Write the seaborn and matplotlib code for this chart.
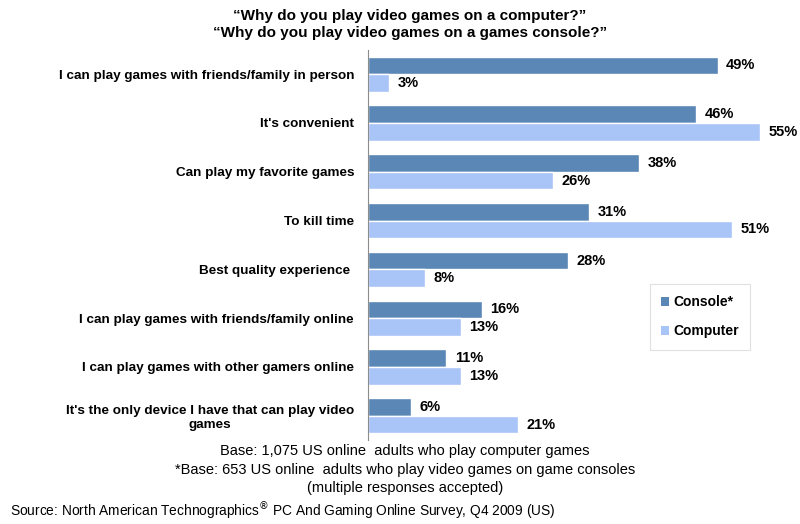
import pandas as pd
import seaborn as sns
import matplotlib.pyplot as plt
from matplotlib.patches import Patch

# Survey answers, top to bottom
reasons = [
    "I can play games with friends/family in person",
    "It's convenient",
    "Can play my favorite games",
    "To kill time",
    "Best quality experience ",
    "I can play games with friends/family online",
    "I can play games with other gamers online",
    "It's the only device I have that can play video\ngames",
]
console = [49, 46, 38, 31, 28, 16, 11, 6]
computer = [3, 55, 26, 51, 8, 13, 13, 21]

series = ["Console*", "Computer"]
colors = ["#5A87B5", "#A9C4F7"]

df = pd.DataFrame({
    "Reason": reasons * 2,
    "Share": console + computer,
    "Device": [series[0]] * len(reasons) + [series[1]] * len(reasons),
})

sns.set_style("white")
plt.rcParams["font.family"] = ["Liberation Sans", "DejaVu Sans"]
plt.rcParams["text.color"] = "black"
plt.rcParams["ytick.color"] = "black"

fig = plt.figure(figsize=(8, 5.24), dpi=100)
ax = fig.add_axes([0.46, 0.16, 0.535, 0.745])

sns.barplot(data=df, y="Reason", x="Share", hue="Device", palette=colors,
            orient="h", width=0.72, saturation=1, ax=ax, legend=False)

for cont in ax.containers:
    ax.bar_label(cont, labels=[f"{v:.0f}%" for v in cont.datavalues],
                 padding=6, fontsize=10.5, fontweight="bold", color="black")

ax.set_xlim(0, 60)
ax.set_xlabel("")
ax.set_ylabel("")
ax.set_xticks([])
ax.tick_params(axis="y", length=0, pad=10)
for lab in ax.get_yticklabels():
    lab.set_fontweight("bold")
    lab.set_fontsize(9.7)
    lab.set_multialignment("center")
for s in ["top", "right", "bottom"]:
    ax.spines[s].set_visible(False)
ax.spines["left"].set_color("#8c8c8c")
ax.spines["left"].set_linewidth(0.8)

handles = [Patch(facecolor=c, edgecolor="none") for c in colors]
leg = ax.legend(handles, series, loc="upper left", bbox_to_anchor=(0.659, 0.4),
                borderaxespad=0, frameon=True, fancybox=False,
                handlelength=0.6, handleheight=0.6, handletextpad=0.3,
                labelspacing=1.1, borderpad=0.8,
                prop={"weight": "bold", "size": 10})
leg.get_frame().set_edgecolor("#d9d9d9")
leg.get_frame().set_linewidth(0.8)

fig.text(0.512, 0.970, "\u201cWhy do you play video games on a computer?\u201d",
         ha="center", va="center", fontsize=11, fontweight="bold")
fig.text(0.512, 0.937, "\u201cWhy do you play video games on a games console?\u201d",
         ha="center", va="center", fontsize=11, fontweight="bold")

fig.text(0.506, 0.139, "Base: 1,075 US online  adults who play computer games",
         ha="center", va="center", fontsize=10.5)
fig.text(0.506, 0.103, "*Base: 653 US online  adults who play video games on game consoles",
         ha="center", va="center", fontsize=10.5)
fig.text(0.506, 0.069, "(multiple responses accepted)",
         ha="center", va="center", fontsize=10.5)
fig.text(0.012, 0.024, "Source: North American Technographics$^{\u00ae}$ PC And Gaming Online Survey, Q4 2009 (US)",
         ha="left", va="center", fontsize=9.9)

fig.savefig("out.png", dpi=100)
